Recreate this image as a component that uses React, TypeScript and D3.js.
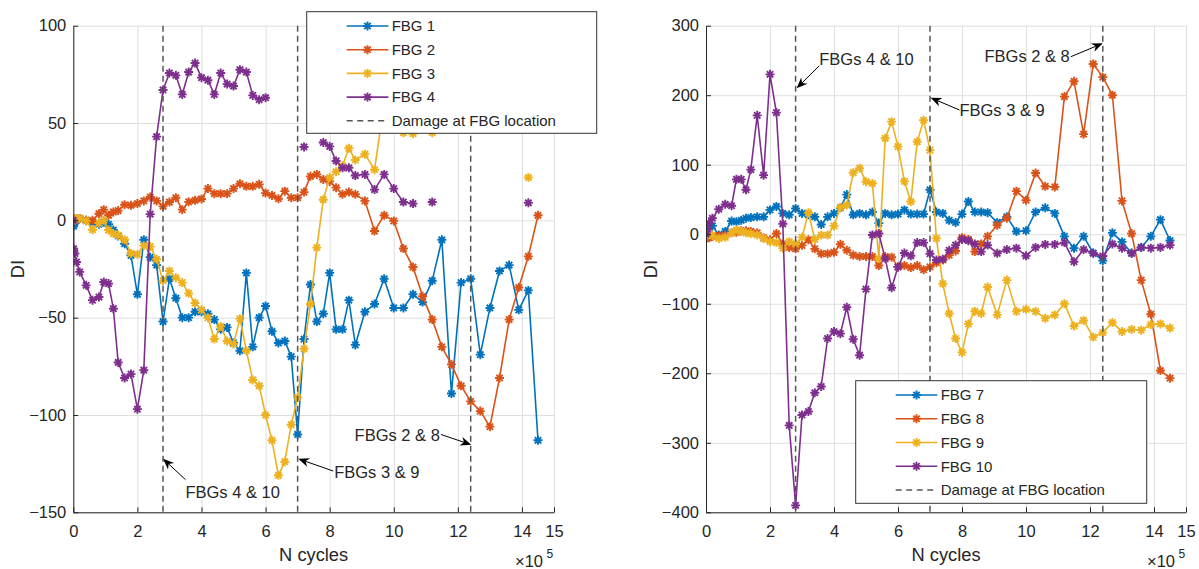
import React, { useRef, useEffect } from 'react'
import * as d3 from 'd3'

// Measurement points, in units of 1e5 cycles (shared by all gratings)
const N_CYCLES = [
  0, 0.01, 0.05, 0.1, 0.2, 0.4, 0.6, 0.8, 0.95, 1.1, 1.25, 1.4, 1.6, 1.8, 2.0, 2.2, 2.4, 2.6, 2.8, 3.0,
  3.2, 3.4, 3.6, 3.8, 4.0, 4.2, 4.4, 4.6, 4.8, 5.0,
  5.2, 5.4, 5.6, 5.8, 6.0, 6.2, 6.4, 6.6, 6.8, 7.0,
  7.2, 7.4, 7.6, 7.8, 8.0, 8.2, 8.4, 8.6, 8.8,
  9.1, 9.4, 9.7, 10.0, 10.3, 10.6, 10.9, 11.2, 11.5, 11.8,
  12.1, 12.4, 12.7, 13.0, 13.3, 13.6, 13.9, 14.2, 14.5,
]

// Left panel: FBG 1-4
const FBG1 = [
  -2, -3, -1, 0, 1, 0, -1, -2, -1, -2, -5, -8, -12, -18, -38, -10, -19, -23, -52, -30,
  -40, -50, -50, -47, -47, -48, -51, -56, -55, -63,
  -67, -27, -65, -50, -44, -57, -63, -62, -70, -110,
  -61, -33, -52, -48, -27, -56, -56, -41, -64,
  -47, -43, -30, -45, -45, -38, -42, -31, -10, -89,
  -32, -30, -69, -45, -26, -23, -46, -36, -113,
]
const FBG2 = [
  0, 0, 0, 1, 1, 0, 0, 3.4, 5.5, 2.6, 4.3, 5, 8, 7.7, 8.6, 10, 12, 10, 7.2, 9.4,
  11.6, 5.5, 9.5, 10.3, 11, 16.3, 13.7, 13.7, 13.7, 16.3,
  18.8, 17.5, 17.5, 18.5, 14, 12.8, 11.1, 15, 11.6, 11.6,
  14.5, 22.6, 23.6, 21, 20, 16.8, 13.4, 14.5, 13.4,
  10, -5.5, 2.6, -0.3, -14.5, -24, -39, -51, -65, -74,
  -85, -93, -98, -106, -81, -51, -34.5, -18.5, 2.6,
]
const FBG3 = [
  0, 0, 1, 1, 1, -0.3, -4.8, -1.4, 0, -5, -6.8, -7.7, -10, -17, -17.5, -13, -13.5, -20, -31, -26,
  -29.5, -32, -37.5, -42.5, -46, -50, -61, -54.5, -62, -63.5,
  -50.5, -67, -82, -85, -100, -113, -131, -124, -105, -91,
  -66, -43, -14, 10.6, 22, 25, 28, 37, 31,
  34, 26, 60, 52, 45, 44.5, 50, 45, null, null,
  null, null, null, null, null, null, null, 22, null,
]
const FBG4 = [
  0, -14.6, -17, -21.4, -26.5, -33.4, -41, -39.4, -31.7, -32.5, -45.4, -73, -81, -79, -97, -77, 3.2, 43, 67, 75.7,
  74.5, 64.7, 76.2, 80.8, 73.3, 72, 64.7, 75.7, 70, 69,
  77.4, 76.2, 64.2, 62, 63, null, null, null, null, null,
  37.7, null, null, 40, 38, 30.5, 27, 27, 23,
  23.6, 15.8, 23.6, 16.3, 9.4, 8.6, null, 9.4, null, null,
  null, null, null, null, null, null, null, 9, null,
]

// Right panel: FBG 7-10
const FBG7 = [
  0, 5, 8, 10, 12, -1, 4, 19, 18, 20, 23, 24, 25, 25, 35, 40, 30, 28, 37, 30,
  28, 25, 14, 25, 30, 38, 57, 28, 30, 28,
  32, 16, 30, 28, 29, 35, 29, 29, 29, 64,
  32, 30, 20, 17, 29, 47, 32, 32, 31,
  17, 25, 4, 5, 32, 38, 30, -3, -20, -3,
  -27, -38, 2, -11, -27, -19, -3, 21, -9,
]
const FBG8 = [
  0, -3, -5, -5, -3, -2, -1.5, 2, 3, 5, 5, 4, 2, -5, -8, 1, -14, -19, -21, -16,
  -8, -21, -28, -28, -26, -14.5, -23, -30, -32, -32,
  -32, -45, -32, -33, -47, -45, -48, -45, -51, -47,
  -41, -37, -30, -24, -5, -7.5, -25, -14, -3,
  13, 23, 62, 49, 88, 69, 68, 198, 220, 144,
  245, 226, 200, 48, 1, -66, -115, -196, -207,
]
const FBG9 = [
  0, -2, 2, 1, -2, -6, -4.5, 2, 6, 4, 2, 1, -1, -6, -10.7, -12, -20, -10.7, -14, -4.5,
  31, -7.4, -1.2, -1.2, 12, 38.6, 42, 88.5, 95, 75.6,
  73, -35, 138, 162, 126, 76, 47, 133, 164, 121,
  -6, -71, -114, -150, -170, -129, -111, -114, -76,
  -116, -66, -111, -108, -111, -121, -116, -100, -132, -124,
  -148, -141.5, -127, -140, -137, -138, -130, -129, -135,
]
const FBG10 = [
  0, 4, 8, 16, 23, 36, 43, 41, 79, 79, 64, 93, 171, 85, 230, 175, 15, -275, -390, -260,
  -255, -228, -219, -150, -140, -143, -105, -151, -174, -79,
  -1, 1, -35, -77, -47, -27, -31, -12, -12, -28,
  -37, -36, -23, -15.6, -7.4, -9.3, -14, -25, -15.6,
  -27.5, -22, -20, -31, -19, -14.6, -14.6, -12, -39.5, -22,
  -27.5, -31.4, -14, -20, -27.5, -19, -20, -19, -15.6,
]

const X_TICKS = [0, 2, 4, 6, 8, 10, 12, 14, 15]
const LEFT_Y_TICKS = [-150, -100, -50, 0, 50, 100]
const RIGHT_Y_TICKS = [-400, -300, -200, -100, 0, 100, 200, 300]
const DAMAGE_AT = [2.8, 7.0, 12.4]

const COLORS = ['#0072BD', '#D95319', '#EDB120', '#7E2F8E']
const FONT = '"Liberation Sans", Arial, Helvetica, sans-serif'
const INK = '#262626'

const PANELS = [
  {
    id: 'L',
    xRange: [73.3, 554],
    yRange: [512.3, 25.7],
    yDomain: [-150, 100],
    yTicks: LEFT_Y_TICKS,
    series: [
      { name: 'FBG 1', values: FBG1 },
      { name: 'FBG 2', values: FBG2 },
      { name: 'FBG 3', values: FBG3 },
      { name: 'FBG 4', values: FBG4 },
    ],
    legend: { x: 306.7, y: 11.7, w: 290, h: 121.6, row0: 26, step: 23.7 },
    diX: 24,
    notes: [
      { label: 'FBGs 4 & 10', head: [2.8, -122.5], tail: [3.5, -133.2], anchor: 'start', dx: 0, dy: 12.5 },
      { label: 'FBGs 3 & 9', head: [7.02, -122.5], tail: [8.11, -128.8], anchor: 'start', dx: 1, dy: 1 },
      { label: 'FBGs 2 & 8', head: [12.42, -115.3], tail: [11.47, -110], anchor: 'end', dx: -1, dy: 0.5 },
    ],
  },
  {
    id: 'R',
    xRange: [706, 1186],
    yRange: [512.3, 25.7],
    yDomain: [-400, 300],
    yTicks: RIGHT_Y_TICKS,
    series: [
      { name: 'FBG 7', values: FBG7 },
      { name: 'FBG 8', values: FBG8 },
      { name: 'FBG 9', values: FBG9 },
      { name: 'FBG 10', values: FBG10 },
    ],
    legend: { x: 855.7, y: 380.7, w: 291, h: 122.6, row0: 395, step: 23.75 },
    diX: 656.5,
    notes: [
      { label: 'FBGs 4 & 10', head: [2.83, 209.9], tail: [3.54, 242.4], anchor: 'start', dx: 0, dy: -7 },
      { label: 'FBGs 3 & 9', head: [7.02, 196.4], tail: [7.92, 178.7], anchor: 'start', dx: 0, dy: 0.5 },
      { label: 'FBGs 2 & 8', head: [12.4, 274.6], tail: [11.4, 255.4], anchor: 'end', dx: -1, dy: 0 },
    ],
  },
]

// asterisk marker ('*' = plus + cross)
const asterisk = (r) => {
  const d = r * 0.7071
  return `M${-r},0L${r},0M0,${-r}L0,${r}M${-d},${-d}L${d},${d}M${-d},${d}L${d},${-d}`
}

function drawArrow(g, tx, ty, hx, hy) {
  const a = Math.atan2(hy - ty, hx - tx)
  const L = 11
  const W = 4.5
  const c = Math.cos(a)
  const s = Math.sin(a)
  const bx = hx - L * c
  const by = hy - L * s
  const nx = hx - 0.7 * L * c
  const ny = hy - 0.7 * L * s
  g.append('line')
    .attr('x1', tx).attr('y1', ty).attr('x2', nx).attr('y2', ny)
    .attr('stroke', '#000').attr('stroke-width', 1)
  g.append('path')
    .attr('d', `M${hx},${hy}L${bx - W * s},${by + W * c}L${nx},${ny}L${bx + W * s},${by - W * c}Z`)
    .attr('fill', '#000')
}

function drawPanel(svg, p) {
  const x = d3.scaleLinear().domain([0, 15]).range(p.xRange)
  const y = d3.scaleLinear().domain(p.yDomain).range(p.yRange)
  const [x0, x1] = p.xRange
  const [yb, yt] = p.yRange
  const g = svg.append('g')

  // grid
  g.append('g')
    .attr('transform', `translate(0, ${yb})`)
    .call(d3.axisBottom(x).tickValues(X_TICKS).tickSize(-(yb - yt)).tickFormat(''))
    .call((s) => s.selectAll('.tick line').attr('stroke', '#dfdfdf'))
    .call((s) => s.select('.domain').remove())
  g.append('g')
    .attr('transform', `translate(${x0}, 0)`)
    .call(d3.axisLeft(y).tickValues(p.yTicks).tickSize(-(x1 - x0)).tickFormat(''))
    .call((s) => s.selectAll('.tick line').attr('stroke', '#dfdfdf'))
    .call((s) => s.select('.domain').remove())

  // series
  const clipId = `clip-${p.id}`
  svg.append('defs').append('clipPath').attr('id', clipId)
    .append('rect').attr('x', x0).attr('y', yt).attr('width', x1 - x0).attr('height', yb - yt)
  const plot = g.append('g').attr('clip-path', `url(#${clipId})`)
  p.series.forEach((sr, i) => {
    const pts = N_CYCLES.map((c, k) => [c, sr.values[k]])
    const line = d3.line()
      .defined((d) => d[1] != null)
      .x((d) => x(d[0]))
      .y((d) => y(d[1]))
    plot.append('path')
      .attr('d', line(pts))
      .attr('fill', 'none')
      .attr('stroke', COLORS[i])
      .attr('stroke-width', 1.6)
      .attr('stroke-linejoin', 'round')
    plot.append('g').selectAll('path')
      .data(pts.filter((d) => d[1] != null))
      .join('path')
      .attr('transform', (d) => `translate(${x(d[0])}, ${y(d[1])})`)
      .attr('d', asterisk(4.5))
      .attr('stroke', COLORS[i])
      .attr('stroke-width', 1.9)
      .attr('fill', 'none')
  })

  // damage locations
  DAMAGE_AT.forEach((v) => {
    g.append('line')
      .attr('x1', x(v)).attr('x2', x(v))
      .attr('y1', yt).attr('y2', yb)
      .attr('stroke', '#555').attr('stroke-width', 1.5).attr('stroke-dasharray', '6,4')
  })

  // axes
  g.append('g')
    .attr('transform', `translate(0, ${yb})`)
    .call(d3.axisBottom(x).tickValues(X_TICKS).tickSizeInner(-5).tickSizeOuter(0).tickPadding(13))
    .call((s) => s.select('.domain').attr('stroke', INK))
    .call((s) => s.selectAll('.tick line').attr('stroke', INK))
    .call((s) => s.selectAll('.tick text').attr('fill', INK).style('font-size', '16.5px').style('font-family', FONT))
  g.append('g')
    .attr('transform', `translate(${x0}, 0)`)
    .call(d3.axisLeft(y).tickValues(p.yTicks).tickSizeInner(-5).tickSizeOuter(0).tickPadding(7))
    .call((s) => s.select('.domain').attr('stroke', INK))
    .call((s) => s.selectAll('.tick line').attr('stroke', INK))
    .call((s) => s.selectAll('.tick text').attr('fill', INK).style('font-size', '16.5px').style('font-family', FONT))

  // labels
  g.append('text')
    .attr('x', (x0 + x1) / 2).attr('y', 561)
    .attr('text-anchor', 'middle').attr('fill', INK)
    .style('font-size', '18.3px').style('font-family', FONT)
    .text('N cycles')
  g.append('text')
    .attr('transform', `translate(${p.diX}, ${(yt + yb) / 2}) rotate(-90)`)
    .attr('text-anchor', 'middle').attr('fill', INK)
    .style('font-size', '18.3px').style('font-family', FONT)
    .text('DI')
  g.append('text')
    .attr('x', x1 - 39).attr('y', 566.5).attr('fill', INK)
    .style('font-size', '16.5px').style('font-family', FONT)
    .text('×10')
  g.append('text')
    .attr('x', x1 - 7.5).attr('y', 557.5).attr('fill', INK)
    .style('font-size', '12px').style('font-family', FONT)
    .text('5')

  // annotations
  p.notes.forEach((n) => {
    const tx = x(n.tail[0])
    const ty = y(n.tail[1])
    drawArrow(g, tx, ty, x(n.head[0]), y(n.head[1]))
    g.append('text')
      .attr('x', tx + n.dx).attr('y', ty + n.dy).attr('dy', '0.35em')
      .attr('text-anchor', n.anchor).attr('fill', INK)
      .style('font-size', '16.5px').style('font-family', FONT)
      .text(n.label)
  })

  // legend
  const lg = p.legend
  const leg = g.append('g')
  leg.append('rect')
    .attr('x', lg.x).attr('y', lg.y).attr('width', lg.w).attr('height', lg.h)
    .attr('fill', '#fff').attr('stroke', '#333').attr('stroke-width', 1)
  const entries = [...p.series.map((s, i) => ({ name: s.name, color: COLORS[i], dash: false })),
    { name: 'Damage at FBG location', color: '#555', dash: true }]
  entries.forEach((e, i) => {
    const ry = lg.row0 + i * lg.step
    leg.append('line')
      .attr('x1', lg.x + 40).attr('x2', lg.x + 81.7).attr('y1', ry).attr('y2', ry)
      .attr('stroke', e.color).attr('stroke-width', 1.6)
      .attr('stroke-dasharray', e.dash ? '6,4.5' : null)
    if (!e.dash) {
      leg.append('path')
        .attr('transform', `translate(${lg.x + 60.8}, ${ry})`)
        .attr('d', asterisk(4.5)).attr('stroke', e.color).attr('stroke-width', 1.9)
    }
    leg.append('text')
      .attr('x', lg.x + 85).attr('y', ry).attr('dy', '0.35em').attr('fill', INK)
      .style('font-size', '15px').style('font-family', FONT)
      .text(e.name)
  })
}

export default function App() {
  const svgRef = useRef(null)

  useEffect(() => {
    const svg = d3.select(svgRef.current)
    svg.selectAll('*').remove()
    PANELS.forEach((p) => drawPanel(svg, p))
  }, [])

  return (
    <svg
      ref={svgRef}
      width={1199}
      height={569}
      viewBox="0 0 1199 569"
      style={{ position: 'absolute', left: 0, top: 0, background: '#fff' }}
    />
  )
}
